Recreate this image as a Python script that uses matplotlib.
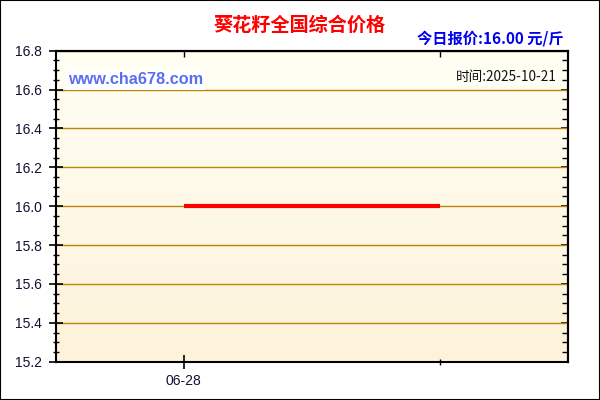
import numpy as np
import matplotlib
matplotlib.use("Agg")
import matplotlib.pyplot as plt
from matplotlib.patches import Rectangle
from matplotlib.ticker import MultipleLocator, FixedLocator, NullFormatter

plt.rcParams['font.family'] = ['Liberation Sans', 'Noto Sans CJK SC', 'DejaVu Sans']

# ---- data ----
dates = ["06-28", "10-21"]
prices = [16.00, 16.00]
title = "葵花籽全国综合价格"
today_label = "今日报价:16.00 元/斤"
time_label = "时间:2025-10-21"
site_label = "www.cha678.com"
y_min, y_max = 15.2, 16.8

fig = plt.figure(figsize=(6, 4), dpi=100)
fig.patch.set_facecolor("white")
fig.patches.append(Rectangle((0, 0), 1, 1, transform=fig.transFigure,
                             fill=False, edgecolor="black", linewidth=1.5, zorder=10))

ax = fig.add_axes([0.0925, 0.0958, 0.8542, 0.7775])
x = np.arange(len(dates))

# gradient background
grad = np.linspace(0, 1, 256).reshape(-1, 1)
top_c = np.array([0xFF, 0xFF, 0xF4]) / 255
bot_c = np.array([0xFD, 0xF2, 0xDA]) / 255
img = top_c[None, None, :] * (1 - grad[:, :, None]) + bot_c[None, None, :] * grad[:, :, None]
ax.imshow(img, extent=[0, 1, 0, 1], transform=ax.transAxes, aspect='auto', zorder=0)

ax.set_xlim(-0.5, len(dates) - 0.5)
ax.set_ylim(y_min, y_max)

ax.yaxis.set_major_locator(MultipleLocator(0.2))
ax.yaxis.set_minor_locator(MultipleLocator(0.05))
ax.grid(axis='y', which='major', color='#B8860B', linewidth=1.0, zorder=1)
ax.set_axisbelow(True)

ax.plot(x, prices, color='#FF0000', linewidth=3, solid_capstyle='butt', zorder=3)

ax.xaxis.set_major_locator(FixedLocator([x[0]]))
ax.set_xticklabels([dates[0]])
ax.xaxis.set_minor_locator(FixedLocator(list(x[1:])))

ax.tick_params(axis='y', which='major', direction='inout', length=10, width=1.2,
               labelsize=10, labelcolor='#111133', pad=5)
ax.tick_params(axis='y', which='minor', direction='inout', length=4, width=1)
ax.tick_params(axis='x', which='major', direction='inout', length=10, width=1.2,
               labelsize=10, labelcolor='#111133', pad=4)
ax.tick_params(axis='x', which='minor', direction='inout', length=4, width=1)
ax.yaxis.set_major_formatter(matplotlib.ticker.FormatStrFormatter('%.1f'))

for s in ax.spines.values():
    s.set_linewidth(1.5)
    s.set_color('black')

axr = ax.secondary_yaxis('right')
axr.yaxis.set_major_locator(MultipleLocator(0.2))
axr.yaxis.set_minor_locator(MultipleLocator(0.05))
axr.yaxis.set_major_formatter(NullFormatter())
axr.tick_params(which='major', direction='in', length=5, width=1.2)
axr.tick_params(which='minor', direction='in', length=4, width=1)
axr.spines['right'].set_linewidth(1.5)

axt = ax.secondary_xaxis('top')
axt.xaxis.set_major_locator(FixedLocator(list(x)))
axt.xaxis.set_major_formatter(NullFormatter())
axt.tick_params(which='major', direction='in', length=4, width=1)
axt.spines['top'].set_linewidth(1.5)

fig.text(0.5, 1 - 25 / 400, title, ha='center', va='center', color='#FF0000',
         fontsize=13.8, fontweight='bold', family=['Noto Sans CJK SC', 'DejaVu Sans'])
fig.text(564 / 600, 1 - 39 / 400, today_label, ha='right', va='center', color='#0000EE',
         fontsize=11, fontweight='bold', family=['Noto Sans CJK SC', 'DejaVu Sans'])
fig.text(557 / 600, 1 - 77 / 400, time_label, ha='right', va='center', color='#111111',
         fontsize=9.8, family=['Noto Sans CJK SC', 'DejaVu Sans'],
         bbox=dict(facecolor='#FFFFF8', edgecolor='none', pad=1))
fig.text(68 / 600, 1 - 80 / 400, site_label, ha='left', va='center', color='#5A6EF2',
         fontsize=11.7, fontweight='bold', family=['Liberation Sans', 'DejaVu Sans'],
         bbox=dict(facecolor='white', edgecolor='none', pad=1.5), zorder=5)

fig.savefig("out.png", dpi=100)
